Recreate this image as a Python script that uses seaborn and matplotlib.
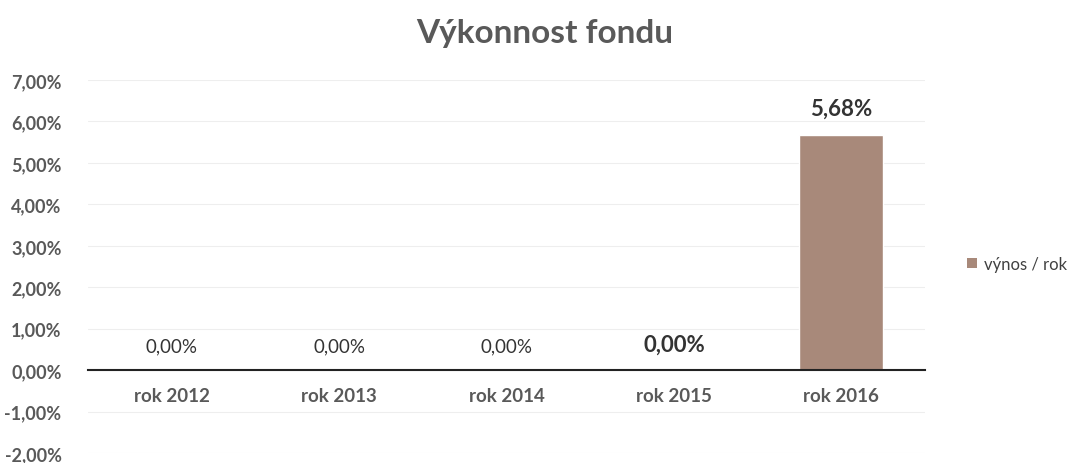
import matplotlib
matplotlib.use("Agg")
import matplotlib.pyplot as plt
import seaborn as sns
import pandas as pd
from matplotlib.patches import Patch

categories = ["rok 2012", "rok 2013", "rok 2014", "rok 2015", "rok 2016"]
values = [0.00, 0.00, 0.00, 0.00, 5.68]
value_labels = ["0,00%", "0,00%", "0,00%", "0,00%", "5,68%"]
yticks = [-2, -1, 0, 1, 2, 3, 4, 5, 6, 7]
ytick_labels = ["-2,00%", "-1,00%", "0,00%", "1,00%", "2,00%", "3,00%",
                "4,00%", "5,00%", "6,00%", "7,00%"]
series_name = "výnos / rok"

sns.set_theme(style="white")
plt.rcParams['font.family'] = ['Lato', 'DejaVu Sans']

df = pd.DataFrame({"rok": categories, "výnos": values})

fig = plt.figure(figsize=(10.72, 4.64), dpi=100)
ax = fig.add_axes([88/1072, 1 - 454/464, 837/1072, (454 - 81)/464])

bar_color = "#a8897a"
sns.barplot(data=df, x="rok", y="výnos", color=bar_color, width=0.5,
            saturation=1, ax=ax)

ax.set_ylim(-2, 7)
ax.set_yticks(yticks)
ax.set_yticklabels(ytick_labels, fontsize=13, fontweight="bold", color="#595959")
ax.tick_params(axis="y", length=0, pad=19)
ax.yaxis.grid(True, color="#eeeeee", linewidth=0.8)
ax.set_axisbelow(True)

for s in ["top", "right", "left"]:
    ax.spines[s].set_visible(False)
ax.spines["bottom"].set_position(("data", 0))
ax.spines["bottom"].set_color("#222222")
ax.spines["bottom"].set_linewidth(1.5)
ax.tick_params(axis="x", length=0, pad=12)
for lab in ax.get_xticklabels():
    lab.set_fontsize(13.5)
    lab.set_fontweight("bold")
    lab.set_color("#595959")
ax.set_xlabel("")
ax.set_ylabel("")

for i, (v, t) in enumerate(zip(values, value_labels)):
    bold = i >= 3
    ax.text(i, v + 0.38, t, ha="center", va="bottom",
            fontsize=16 if bold else 13.5,
            fontweight="bold" if bold else "normal", color="#333333")

fig.text(545/1072, 1 - 33/464, "Výkonnost fondu", ha="center", va="center",
         fontsize=24, fontweight="bold", color="#595959")

handles = [Patch(facecolor=bar_color, edgecolor="none", label=series_name)]
fig.legend(handles=handles, loc="center left", bbox_to_anchor=(952/1072, 1 - 265/464),
           frameon=False, fontsize=12, handlelength=0.6, handleheight=0.6,
           handletextpad=0.4, labelcolor="#404040")

fig.savefig("out.png", dpi=100, facecolor="white")
